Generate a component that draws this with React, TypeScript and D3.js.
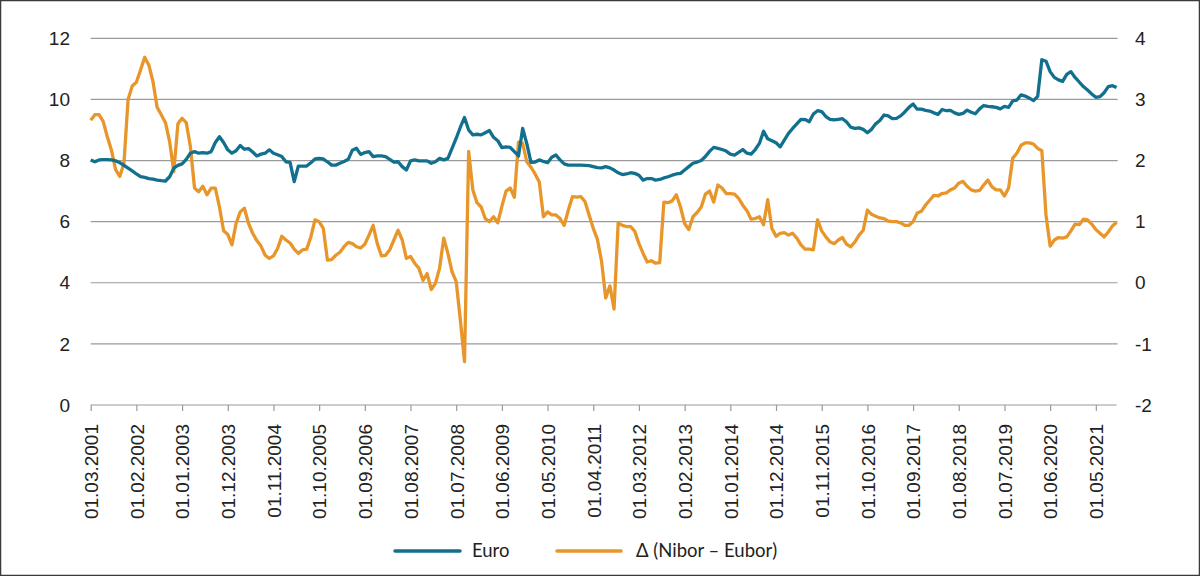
import React, { useEffect, useRef } from "react";
import * as d3 from "d3";

// monthly values, 01.03.2001 .. 01.10.2021
const euro = [
  8.02, 7.96, 8.02, 8.03, 8.03, 8.02, 7.99, 7.93, 7.84, 7.75, 7.66, 7.56, 7.47, 7.45, 7.41, 7.39,
  7.36, 7.34, 7.33, 7.47, 7.75, 7.84, 7.89, 8.04, 8.24, 8.29, 8.24, 8.26, 8.24, 8.29, 8.59, 8.78,
  8.59, 8.35, 8.24, 8.32, 8.49, 8.37, 8.39, 8.28, 8.15, 8.21, 8.24, 8.35, 8.24, 8.19, 8.13, 7.96,
  7.94, 7.31, 7.82, 7.82, 7.82, 7.93, 8.05, 8.07, 8.05, 7.96, 7.85, 7.85, 7.91, 7.97, 8.04, 8.34,
  8.4, 8.2, 8.26, 8.29, 8.13, 8.15, 8.15, 8.13, 8.04, 7.95, 7.96, 7.8, 7.69, 7.99, 8.02, 7.99,
  7.99, 7.99, 7.91, 7.96, 8.07, 8.02, 8.07, 8.4, 8.73, 9.09, 9.41, 9.0, 8.84, 8.86, 8.84, 8.91,
  8.98, 8.76, 8.65, 8.42, 8.45, 8.43, 8.29, 8.15, 9.05, 8.55, 7.94, 7.95, 8.02, 7.97, 7.93, 8.11,
  8.18, 8.02, 7.89, 7.85, 7.85, 7.85, 7.85, 7.84, 7.83, 7.8, 7.77, 7.76, 7.8, 7.76, 7.69, 7.6,
  7.54, 7.56, 7.6, 7.58, 7.52, 7.36, 7.41, 7.41, 7.36, 7.38, 7.43, 7.47, 7.52, 7.56, 7.58, 7.69,
  7.8, 7.91, 7.95, 8.0, 8.13, 8.3, 8.43, 8.4, 8.36, 8.31, 8.21, 8.18, 8.27, 8.36, 8.24, 8.21,
  8.36, 8.56, 8.96, 8.71, 8.65, 8.58, 8.45, 8.67, 8.89, 9.05, 9.2, 9.35, 9.34, 9.27, 9.52, 9.63,
  9.6, 9.44, 9.35, 9.33, 9.35, 9.37, 9.26, 9.09, 9.05, 9.07, 9.02, 8.91, 9.02, 9.2, 9.31, 9.49,
  9.46, 9.37, 9.38, 9.46, 9.59, 9.74, 9.85, 9.68, 9.68, 9.64, 9.62, 9.56, 9.51, 9.67, 9.63, 9.64,
  9.56, 9.51, 9.54, 9.65, 9.58, 9.53, 9.69, 9.8, 9.77, 9.76, 9.74, 9.69, 9.77, 9.74, 9.95, 9.98,
  10.15, 10.11, 10.04, 9.96, 10.1, 11.3, 11.25, 10.91, 10.72, 10.64, 10.59, 10.82, 10.91, 10.72, 10.57, 10.42,
  10.31, 10.18, 10.07, 10.09, 10.22, 10.42, 10.45, 10.39,
];

const delta = [
  2.66, 2.75, 2.75, 2.64, 2.39, 2.17, 1.85, 1.74, 1.95, 3.0, 3.22, 3.28, 3.48, 3.69, 3.56, 3.29,
  2.87, 2.75, 2.62, 2.31, 1.82, 2.6, 2.69, 2.62, 2.23, 1.55, 1.49, 1.58, 1.44, 1.55, 1.55, 1.24,
  0.85, 0.79, 0.62, 0.97, 1.16, 1.22, 0.97, 0.81, 0.69, 0.6, 0.45, 0.4, 0.44, 0.56, 0.76, 0.7,
  0.65, 0.55, 0.48, 0.54, 0.55, 0.75, 1.03, 1.0, 0.89, 0.37, 0.38, 0.45, 0.5, 0.59, 0.66, 0.64,
  0.59, 0.57, 0.63, 0.78, 0.94, 0.64, 0.44, 0.45, 0.54, 0.7, 0.86, 0.7, 0.4, 0.43, 0.32, 0.24,
  0.04, 0.15, -0.11, -0.01, 0.24, 0.73, 0.48, 0.18, 0.02, -0.61, -1.29, 2.15, 1.52, 1.31, 1.24, 1.05,
  1.0, 1.08, 0.98, 1.25, 1.5, 1.55, 1.4, 2.3, 2.28, 1.98, 1.89, 1.78, 1.65, 1.08, 1.16, 1.11,
  1.11, 1.05, 0.94, 1.19, 1.41, 1.4, 1.41, 1.33, 1.11, 0.89, 0.71, 0.35, -0.25, -0.05, -0.43, 0.98,
  0.94, 0.92, 0.92, 0.84, 0.64, 0.48, 0.34, 0.36, 0.32, 0.33, 1.32, 1.31, 1.34, 1.44, 1.24, 0.97,
  0.87, 1.08, 1.15, 1.24, 1.45, 1.5, 1.32, 1.6, 1.55, 1.46, 1.46, 1.45, 1.38, 1.27, 1.18, 1.04,
  1.05, 1.08, 0.95, 1.36, 0.89, 0.76, 0.81, 0.82, 0.78, 0.81, 0.73, 0.62, 0.55, 0.55, 0.54, 1.03,
  0.85, 0.75, 0.67, 0.64, 0.7, 0.74, 0.63, 0.59, 0.67, 0.78, 0.86, 1.19, 1.12, 1.09, 1.06, 1.05,
  1.01, 1.0, 1.0, 0.98, 0.94, 0.94, 1.0, 1.14, 1.17, 1.27, 1.35, 1.43, 1.42, 1.46, 1.47, 1.52,
  1.55, 1.63, 1.66, 1.58, 1.52, 1.5, 1.51, 1.6, 1.68, 1.57, 1.52, 1.52, 1.42, 1.55, 2.04, 2.12,
  2.25, 2.29, 2.29, 2.27, 2.2, 2.16, 1.11, 0.6, 0.7, 0.74, 0.73, 0.75, 0.85, 0.96, 0.95, 1.04,
  1.03, 0.96, 0.87, 0.81, 0.75, 0.83, 0.93, 0.99,
];

const tickLabels = [
  "01.03.2001", "01.02.2002", "01.01.2003", "01.12.2003", "01.11.2004", "01.10.2005",
  "01.09.2006", "01.08.2007", "01.07.2008", "01.06.2009", "01.05.2010", "01.04.2011",
  "01.03.2012", "01.02.2013", "01.01.2014", "01.12.2014", "01.11.2015", "01.10.2016",
  "01.09.2017", "01.08.2018", "01.07.2019", "01.06.2020", "01.05.2021",
];

const leftTicks = [0, 2, 4, 6, 8, 10, 12];
const rightTicks = [-2, -1, 0, 1, 2, 3, 4];
const seriesNames = ["Euro", "Δ (Nibor – Eubor)"];

const BLUE = "#12708f";
const ORANGE = "#e8962a";

function monthLabel(i: number) {
  const m = (2 + i) % 12; // start: March 2001
  const y = 2001 + Math.floor((2 + i) / 12);
  return `01.${String(m + 1).padStart(2, "0")}.${y}`;
}

export default function App() {
  const ref = useRef<SVGSVGElement>(null);

  useEffect(() => {
    const svg = d3.select(ref.current);
    svg.selectAll("*").remove();

    const left = 90.7, right = 1116.6, top = 38.3, bottom = 405;
    const months = euro.map((_, i) => monthLabel(i));

    const x = d3.scalePoint<string>().domain(months).range([left, right]);
    const yL = d3.scaleLinear().domain([0, 12]).range([bottom, top]);
    const yR = d3.scaleLinear().domain([-2, 4]).range([bottom, top]);

    // frame
    svg.append("rect")
      .attr("x", 0.5).attr("y", 0.5)
      .attr("width", 1199).attr("height", 575)
      .attr("fill", "white")
      .attr("stroke", "#3a3a3a")
      .attr("stroke-width", 1.5);

    // gridlines
    svg.append("g")
      .selectAll("line")
      .data(leftTicks.filter(d => d !== 0))
      .join("line")
      .attr("x1", left).attr("x2", right + 1)
      .attr("y1", d => yL(d)).attr("y2", d => yL(d))
      .attr("stroke", "#9a9a9a")
      .attr("stroke-width", 1.2);

    // left labels
    svg.append("g")
      .selectAll("text")
      .data(leftTicks)
      .join("text")
      .attr("x", 70)
      .attr("y", d => yL(d))
      .attr("dy", "0.35em")
      .attr("text-anchor", "end")
      .attr("font-family", "Liberation Sans, Arial, sans-serif")
      .attr("font-size", 19)
      .attr("fill", "#222")
      .text(d => d);

    // right labels
    svg.append("g")
      .selectAll("text")
      .data(rightTicks)
      .join("text")
      .attr("x", 1135)
      .attr("y", d => yR(d))
      .attr("dy", "0.35em")
      .attr("text-anchor", "start")
      .attr("font-family", "Liberation Sans, Arial, sans-serif")
      .attr("font-size", 19)
      .attr("fill", "#222")
      .text(d => d);

    // x axis
    const xAxis = svg.append("g")
      .attr("transform", `translate(0,${bottom})`)
      .call(d3.axisBottom(x).tickValues(tickLabels).tickSize(6).tickSizeOuter(0).tickPadding(7));
    xAxis.select(".domain").attr("stroke", "#9a9a9a").attr("stroke-width", 1.2).attr("d", `M${left},0H${right}`);
    xAxis.selectAll(".tick line").attr("stroke", "#9a9a9a").attr("stroke-width", 1.2);
    xAxis.selectAll<SVGTextElement, string>(".tick text")
      .attr("transform", "rotate(-90)")
      .attr("text-anchor", "end")
      .attr("x", -19)
      .attr("y", 0)
      .attr("dy", "0.36em")
      .attr("font-family", "Liberation Sans, Arial, sans-serif")
      .attr("font-size", 19)
      .attr("fill", "#222");

    const lineL = d3.line<number>().x((_, i) => x(months[i])!).y(d => yL(d));
    const lineR = d3.line<number>().x((_, i) => x(months[i])!).y(d => yR(d));

    svg.append("path")
      .datum(delta)
      .attr("d", lineR)
      .attr("fill", "none")
      .attr("stroke", ORANGE)
      .attr("stroke-width", 3.3)
      .attr("stroke-linejoin", "round");

    svg.append("path")
      .datum(euro)
      .attr("d", lineL)
      .attr("fill", "none")
      .attr("stroke", BLUE)
      .attr("stroke-width", 3.3)
      .attr("stroke-linejoin", "round");

    // legend
    const legend = [
      { name: seriesNames[0], color: BLUE, x0: 395, x1: 460, tx: 472 },
      { name: seriesNames[1], color: ORANGE, x0: 557, x1: 621, tx: 636 },
    ];
    const lg = svg.append("g");
    lg.selectAll("line")
      .data(legend)
      .join("line")
      .attr("x1", d => d.x0).attr("x2", d => d.x1)
      .attr("y1", 551).attr("y2", 551)
      .attr("stroke", d => d.color)
      .attr("stroke-width", 3.5)
      .attr("stroke-linecap", "round");
    lg.selectAll("text")
      .data(legend)
      .join("text")
      .attr("x", d => d.tx)
      .attr("y", 551)
      .attr("dy", "0.35em")
      .attr("font-family", "Lato, Open Sans, sans-serif")
      .attr("font-size", 18.5)
      .attr("fill", "#222")
      .text(d => d.name);
  }, []);

  return (
    <svg
      ref={ref}
      width={1200}
      height={576}
      style={{ position: "absolute", left: 0, top: 0, display: "block" }}
    />
  );
}
